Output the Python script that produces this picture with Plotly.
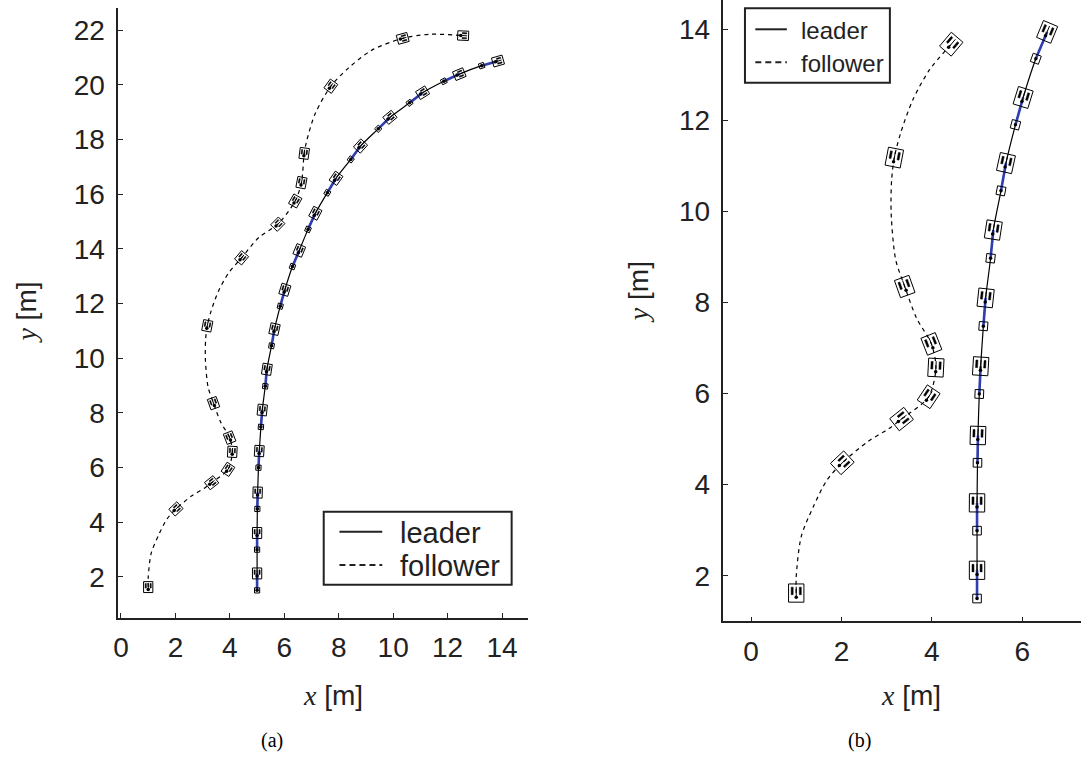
import numpy as np
import plotly.graph_objects as go

# ---------------------------------------------------------------- data
# Leader poses, one per sample; even samples are drawn with the small
# marker, odd samples with the full vehicle body.
leader_x = [5.0, 5.0, 5.0, 5.0, 5.01, 5.02, 5.05, 5.08, 5.14, 5.19, 5.3, 5.36,
            5.53, 5.64, 5.85, 6.02, 6.3, 6.55, 6.87, 7.14, 7.58, 7.9, 8.44, 8.8,
            9.45, 9.88, 10.6, 11.08, 11.86, 12.43, 13.25, 13.85]
leader_y = [1.5, 2.12, 2.99, 3.6, 4.48, 5.08, 5.99, 6.6, 7.48, 8.1, 8.97, 9.59,
            10.45, 11.06, 11.9, 12.5, 13.35, 13.94, 14.71, 15.3, 16.05, 16.58,
            17.27, 17.76, 18.39, 18.81, 19.34, 19.71, 20.13, 20.39, 20.7, 20.87]

# Follower path and the path indices where the vehicle body is drawn.
follower_x = [1.0, 1.0, 1.11, 1.38, 1.68, 2.02, 2.59, 3.05, 3.33, 3.93, 4.09,
              3.99, 3.66, 3.4, 3.2, 3.1, 3.11, 3.17, 3.31, 3.58, 3.95, 4.43,
              5.07, 5.76, 6.4, 6.63, 6.73, 6.83, 7.14, 7.71, 8.34, 9.22, 10.35,
              11.36, 12.57]
follower_y = [1.62, 1.98, 2.86, 3.52, 4.1, 4.48, 4.95, 5.23, 5.44, 5.93, 6.57,
              7.09, 7.66, 8.35, 8.94, 9.96, 10.69, 11.18, 11.72, 12.45, 13.11,
              13.67, 14.42, 14.9, 15.75, 16.42, 17.49, 17.98, 18.96, 19.95,
              20.6, 21.27, 21.7, 21.85, 21.8]
follower_poses = [0, 5, 8, 9, 10, 11, 13, 17, 21, 23, 24, 25, 26, 29, 32, 34]

# Panel (b) shows the first part of the same run.
leader_samples_b = 18
follower_last_b = 21

ticks_a_x = [0, 2, 4, 6, 8, 10, 12, 14]
ticks_a_y = [2, 4, 6, 8, 10, 12, 14, 16, 18, 20, 22]
ticks_b_x = [0, 2, 4, 6]
ticks_b_y = [2, 4, 6, 8, 10, 12, 14]

# ---------------------------------------------------------------- style
W, H = 1081, 758
INK = "#222222"
BLUE = "#2f3db0"
BODY_HALF_LEN, BODY_HALF_WID = 0.20, 0.17
MARK_HALF = 0.095


def px_x(p):
    return p / W


def px_y(p):
    return 1 - p / H


def local(cx, cy, th, u, v):
    c, s = np.cos(th), np.sin(th)
    return cx + u * c - v * s, cy + u * s + v * c


def add_poly(xs, ys, pts):
    for px_, py_ in pts:
        xs.append(px_)
        ys.append(py_)
    xs.append(None)
    ys.append(None)


def vehicle_traces(poses, small, xa, ya):
    """poses: list of (x, y, heading); small: list of bools."""
    ox, oy, wx, wy, nx, ny, dx, dy = [], [], [], [], [], [], [], []
    for (cx, cy, th), sm in zip(poses, small):
        if sm:
            h = MARK_HALF
            corners = [(h, h), (h, -h), (-h, -h), (-h, h), (h, h)]
            add_poly(ox, oy, [local(cx, cy, th, u, v) for u, v in corners])
            dx.append(cx)
            dy.append(cy)
            continue
        L, Wd = BODY_HALF_LEN, BODY_HALF_WID
        corners = [(L, Wd), (L, -Wd), (-L, -Wd), (-L, Wd), (L, Wd)]
        add_poly(ox, oy, [local(cx, cy, th, u, v) for u, v in corners])
        for side in (-0.09, 0.09):
            wheel = [(0.13, side - 0.022), (0.13, side + 0.022),
                     (-0.035, side + 0.022), (-0.035, side - 0.022),
                     (0.13, side - 0.022)]
            add_poly(wx, wy, [local(cx, cy, th, u, v) for u, v in wheel])
        add_poly(nx, ny, [local(cx, cy, th, -0.09, 0.0),
                          local(cx, cy, th, 0.14, 0.0)])
        px_, py_ = local(cx, cy, th, -0.09, 0.0)
        dx.append(px_)
        dy.append(py_)
    common = dict(xaxis=xa, yaxis=ya, showlegend=False, hoverinfo="skip")
    return [
        go.Scatter(x=ox, y=oy, mode="lines", line=dict(color="black", width=1), **common),
        go.Scatter(x=wx, y=wy, mode="lines", fill="toself", fillcolor="black",
                   line=dict(color="black", width=0.5), **common),
        go.Scatter(x=nx, y=ny, mode="lines", line=dict(color="black", width=1), **common),
        go.Scatter(x=dx, y=dy, mode="markers", marker=dict(color="black", size=3.5), **common),
    ]


lx_all = np.array(leader_x)
ly_all = np.array(leader_y)
leader_th = np.arctan2(np.gradient(ly_all), np.gradient(lx_all))

fx_all = np.array(follower_x)
fy_all = np.array(follower_y)


def follower_heading(k):
    a = max(k - 1, 0)
    b = min(k + 1, len(fx_all) - 1)
    return np.arctan2(fy_all[b] - fy_all[a], fx_all[b] - fx_all[a])


def panel(n_leader, f_last, xa, ya):
    traces = []
    lx, ly = lx_all[:n_leader], ly_all[:n_leader]
    traces.append(go.Scatter(x=lx, y=ly, mode="lines", xaxis=xa, yaxis=ya,
                             line=dict(color="black", width=1.2, shape="spline", smoothing=0.6),
                             showlegend=False, hoverinfo="skip"))
    bx, by = [], []
    for i in range(0, n_leader - 1, 2):
        bx += [lx[i], lx[i + 1], None]
        by += [ly[i], ly[i + 1], None]
    traces.append(go.Scatter(x=bx, y=by, mode="lines", xaxis=xa, yaxis=ya,
                             line=dict(color=BLUE, width=2.6),
                             showlegend=False, hoverinfo="skip"))
    fx, fy = fx_all[:f_last + 1], fy_all[:f_last + 1]
    traces.append(go.Scatter(x=fx, y=fy, mode="lines", xaxis=xa, yaxis=ya,
                             line=dict(color="black", width=1.2, dash="4px,4px",
                                       shape="spline", smoothing=0.8),
                             showlegend=False, hoverinfo="skip"))
    poses = [(lx[i], ly[i], leader_th[i]) for i in range(n_leader)]
    small = [i % 2 == 0 for i in range(n_leader)]
    for k in follower_poses:
        if k <= f_last:
            poses.append((fx_all[k], fy_all[k], follower_heading(k)))
            small.append(False)
    traces += vehicle_traces(poses, small, xa, ya)
    return traces


fig = go.Figure()
for t in panel(len(leader_x), len(follower_x) - 1, "x", "y"):
    fig.add_trace(t)
for t in panel(leader_samples_b, follower_last_b, "x2", "y2"):
    fig.add_trace(t)

axis_common = dict(showgrid=False, zeroline=False, showline=True, linecolor=INK,
                   linewidth=1.6, ticks="inside", ticklen=5, tickwidth=1.4,
                   tickcolor=INK, mirror=False,
                   tickfont=dict(family="Liberation Sans", size=28, color=INK))

fig.update_layout(
    width=W, height=H, margin=dict(l=0, r=0, t=0, b=0),
    paper_bgcolor="white", plot_bgcolor="white", showlegend=False,
    xaxis=dict(domain=[px_x(113.8), px_x(525.9)], anchor="y", range=[-0.1, 14.97],
               tickvals=ticks_a_x, ticklabelstandoff=4, **axis_common),
    yaxis=dict(domain=[px_y(617.7), px_y(8.3)], anchor="x", range=[0.5, 22.8],
               tickvals=ticks_a_y, ticklabelstandoff=6, **axis_common),
    xaxis2=dict(domain=[px_x(721.8), 1.0], anchor="y2", range=[-0.61, 7.3],
                tickvals=ticks_b_x, ticklabelstandoff=4, **axis_common),
    yaxis2=dict(domain=[px_y(621.3), 1.0], anchor="x2", range=[1.0, 14.64],
                tickvals=ticks_b_y, ticklabelstandoff=6, **axis_common),
)

ital = "<span style=\"font-family:'Liberation Serif'\"><i>{}</i></span> [m]"
title_font = dict(family="Liberation Sans", size=28, color=INK)
annotations = [
    dict(x=px_x(329.5), y=px_y(695), text=ital.format("x"), textangle=0),
    dict(x=px_x(910.2), y=px_y(695), text=ital.format("x"), textangle=0),
    dict(x=px_x(20.7), y=px_y(313), text=ital.format("y"), textangle=-90),
    dict(x=px_x(636.4), y=px_y(291.7), text=ital.format("y"), textangle=-90),
]
for a in annotations:
    fig.add_annotation(xref="paper", yref="paper", showarrow=False,
                       xanchor="center", yanchor="middle", font=title_font, **a)

cap_font = dict(family="Liberation Serif", size=20, color="black")
fig.add_annotation(x=px_x(268.3), y=px_y(740.5), text="(a)", xref="paper", yref="paper",
                   showarrow=False, font=cap_font, xanchor="center", yanchor="middle")
fig.add_annotation(x=px_x(858.5), y=px_y(740.5), text="(b)", xref="paper", yref="paper",
                   showarrow=False, font=cap_font, xanchor="center", yanchor="middle")


def legend_box(x0, y0, x1, y1, line_x0, line_x1, text_x, rows, size):
    fig.add_shape(type="rect", xref="paper", yref="paper",
                  x0=px_x(x0), x1=px_x(x1), y0=px_y(y1), y1=px_y(y0),
                  line=dict(color=INK, width=2), fillcolor="white", layer="above")
    for label, row_y, dash in rows:
        fig.add_shape(type="line", xref="paper", yref="paper",
                      x0=px_x(line_x0), x1=px_x(line_x1), y0=px_y(row_y), y1=px_y(row_y),
                      line=dict(color=INK, width=2, dash=dash), layer="above")
        fig.add_annotation(x=px_x(text_x), y=px_y(row_y + 1), text=label,
                           xref="paper", yref="paper", showarrow=False,
                           xanchor="left", yanchor="middle",
                           font=dict(family="Liberation Sans", size=size, color=INK))


legend_box(320.2, 511.7, 509.0, 584.7, 336, 379, 394.5,
           [("leader", 531.7, "solid"), ("follower", 565.0, "6px,4px")], 29)
legend_box(743.4, 8.3, 889.0, 82.7, 753.8, 785.5, 797.5,
           [("leader", 29.3, "solid"), ("follower", 62.3, "6px,4px")], 24)

fig.write_html("out.html")
